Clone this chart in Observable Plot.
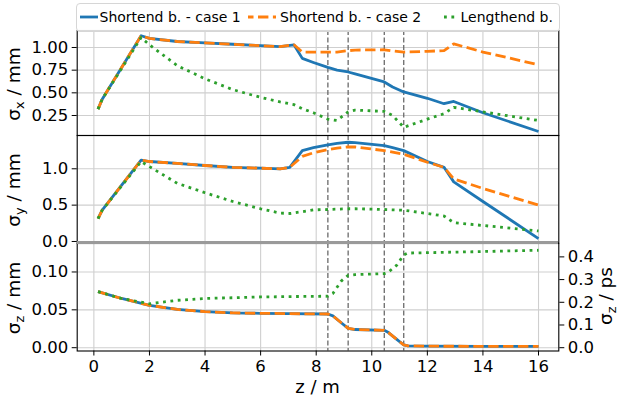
<!DOCTYPE html>
<html>
<head>
<meta charset="utf-8">
<script src="https://cdn.jsdelivr.net/npm/d3@7"></script>
<script src="https://cdn.jsdelivr.net/npm/@observablehq/plot@0.6"></script>
<style>
  html, body { margin: 0; padding: 0; background: white; }
  #fig { position: relative; width: 618px; height: 403px; font-family: "DejaVu Sans", sans-serif; font-weight: normal; color: black; overflow: hidden; }
  .abs { position: absolute; }
  .vlabel { position: absolute; white-space: nowrap; transform: translate(-50%, -50%) rotate(-90deg); font-size: 18.5px; line-height: 1; font-weight: normal; }
  .vlabel sub { font-size: 70%; vertical-align: -0.25em; }
  .leg-text { position: absolute; font-size: 14px; white-space: nowrap; line-height: 1; font-weight: normal; }
</style>
</head>
<body>
<div id="fig"></div>
<script>
// ---------- data ----------
const seriesNames = ["Shortend b. - case 1", "Shortend b. - case 2", "Lengthend b."];
const xTicks = [0, 2, 4, 6, 8, 10, 12, 14, 16];
const dashZ = [8.42, 9.15, 10.45, 11.15];

// panel 1: sigma_x / mm
const zX = [0.15, 0.3, 1.7, 2.0, 3.0, 4.0, 5.0, 6.0, 6.7, 7.2, 7.5, 7.9, 8.42, 8.75, 9.15, 9.4, 10.45, 10.75, 11.15, 12.0, 12.6, 12.95, 14.0, 16.0];
const sx1 = [0.32, 0.43, 1.13, 1.10, 1.066, 1.05, 1.036, 1.02, 1.01, 1.03, 0.88, 0.835, 0.78, 0.75, 0.73, 0.71, 0.62, 0.565, 0.51, 0.44, 0.38, 0.405, 0.28, 0.074];
const sx2 = [0.32, 0.43, 1.13, 1.10, 1.066, 1.05, 1.036, 1.02, 1.01, 1.03, 0.95, 0.95, 0.95, 0.95, 0.965, 0.972, 0.975, 0.962, 0.95, 0.958, 0.965, 1.04, 0.95, 0.81];
const sx3 = [0.32, 0.43, 1.11, 1.03, 0.80, 0.655, 0.535, 0.45, 0.40, 0.37, 0.325, 0.28, 0.21, 0.195, 0.29, 0.31, 0.295, 0.25, 0.12, 0.21, 0.27, 0.34, 0.29, 0.195];
const xTicksY1 = [0.25, 0.5, 0.75, 1.0];

// panel 2: sigma_y / mm
const zY = [0.15, 0.3, 1.7, 2.0, 3.0, 4.0, 5.0, 6.0, 6.7, 7.05, 7.5, 7.9, 8.42, 8.75, 9.15, 9.4, 10.45, 10.75, 11.15, 12.0, 12.6, 12.95, 14.0, 16.0];
const sy1 = [0.315, 0.43, 1.12, 1.10, 1.075, 1.045, 1.02, 1.008, 1.0, 1.02, 1.25, 1.29, 1.33, 1.35, 1.365, 1.36, 1.32, 1.29, 1.25, 1.10, 1.02, 0.82, 0.55, 0.04];
const sy2 = [0.315, 0.43, 1.12, 1.10, 1.075, 1.045, 1.02, 1.008, 1.0, 1.02, 1.17, 1.22, 1.265, 1.285, 1.30, 1.30, 1.25, 1.23, 1.20, 1.09, 1.02, 0.86, 0.73, 0.50];
const sy3 = [0.315, 0.43, 1.10, 1.03, 0.80, 0.67, 0.55, 0.45, 0.39, 0.385, 0.41, 0.435, 0.44, 0.445, 0.45, 0.45, 0.44, 0.435, 0.43, 0.385, 0.35, 0.26, 0.22, 0.145];
const yTicksY2 = [0.0, 0.5, 1.0];

// panel 3: sigma_z / mm (right axis in ps)
const zZ = [0.15, 1.0, 2.0, 3.0, 4.0, 5.0, 6.0, 7.0, 8.42, 8.6, 8.9, 9.15, 9.4, 10.45, 10.6, 10.9, 11.15, 11.3, 12.0, 14.0, 16.0];
const sz1 = [0.074, 0.065, 0.056, 0.0505, 0.0476, 0.046, 0.0454, 0.045, 0.0445, 0.042, 0.033, 0.0256, 0.024, 0.023, 0.020, 0.011, 0.0036, 0.0025, 0.002, 0.0018, 0.0018];
const sz2 = [0.074, 0.065, 0.056, 0.0505, 0.0476, 0.046, 0.0454, 0.045, 0.0445, 0.042, 0.033, 0.0256, 0.024, 0.023, 0.020, 0.011, 0.0036, 0.0025, 0.002, 0.0018, 0.0018];
const sz3 = [0.074, 0.065, 0.058, 0.0626, 0.065, 0.066, 0.067, 0.0675, 0.068, 0.0715, 0.088, 0.0956, 0.0965, 0.0978, 0.100, 0.109, 0.1225, 0.125, 0.1255, 0.127, 0.1287];
const yTicksZmm = [0.0, 0.05, 0.10];
const yTicksZps = [0.0, 0.1, 0.2, 0.3, 0.4];
const mmPerPs = 0.299792458;

// ---------- drawing ----------
const colors = ["#1f77b4", "#ff7f0e", "#2ca02c"];
const dashes = [null, "10.4,4.5", "2.8,4.6"];
const fig = document.getElementById("fig");
const xDomain = [-0.6, 16.73];
const mL = 76.7, mR = 618 - 558.3;

function rows(zs, vs) { return zs.map((z, i) => ({z, v: vs[i]})); }

function panel({top, height, zs, ss, domain, ticks, fmt, bottomAxis, rightAxis}) {
  const marks = [
    Plot.gridX(xTicks, {stroke: "#cfcfcf", strokeOpacity: 1, strokeWidth: 1.1}),
    Plot.gridY(ticks, {stroke: "#cfcfcf", strokeOpacity: 1, strokeWidth: 1.1}),
    Plot.ruleX(dashZ, {stroke: "#6a6a6a", strokeWidth: 1.3, strokeDasharray: "5,2.5"})
  ];
  ss.forEach((vs, i) => {
    marks.push(Plot.line(rows(zs, vs), {
      x: "z", y: "v", stroke: colors[i], strokeWidth: 2.8,
      strokeDasharray: dashes[i], strokeLinejoin: "round", strokeLinecap: "butt"
    }));
  });
  marks.push(Plot.frame({stroke: "black", strokeWidth: 1.1}));
  marks.push(Plot.axisY(ticks, {anchor: "left", tickSize: 5, tickPadding: 4, tickFormat: fmt, label: null}));
  if (bottomAxis) marks.push(Plot.axisX(xTicks, {anchor: "bottom", tickSize: 5, tickPadding: 4, tickFormat: d => String(d), label: null}));
  if (rightAxis) marks.push(Plot.axisY(yTicksZps.map(p => p * mmPerPs), {anchor: "right", tickSize: 5, tickPadding: 4, tickFormat: d => (d / mmPerPs).toFixed(1), label: null}));
  const svg = Plot.plot({
    width: 618, height,
    marginLeft: mL, marginRight: mR, marginTop: 0, marginBottom: 0,
    x: {domain: xDomain, axis: null},
    y: {domain, axis: null},
    style: {background: "transparent", overflow: "visible", fontFamily: "DejaVu Sans, sans-serif", fontSize: "16.5px", fontWeight: "normal"},
    marks
  });
  svg.style.position = "absolute";
  svg.style.left = "0px";
  svg.style.top = top + "px";
  fig.appendChild(svg);
}

panel({top: 30, height: 105, zs: zX, ss: [sx1, sx2, sx3], domain: [0.0294, 1.1875], ticks: xTicksY1, fmt: d => d.toFixed(2)});
panel({top: 135, height: 107.5, zs: zY, ss: [sy1, sy2, sy3], domain: [-0.021, 1.458], ticks: yTicksY2, fmt: d => d.toFixed(1)});
panel({top: 242.5, height: 107.5, zs: zZ, ss: [sz1, sz2, sz3], domain: [-0.00436, 0.1376], ticks: yTicksZmm, fmt: d => d.toFixed(2), bottomAxis: true, rightAxis: true});

// gray band between panel 2 and 3
const band = document.createElement("div");
band.className = "abs";
Object.assign(band.style, {left: mL + "px", top: "240.5px", width: (558.3 - mL) + "px", height: "3px", background: "#9a9a9a"});
fig.appendChild(band);

// axis labels
function vlabel(html, cx, cy) {
  const d = document.createElement("div");
  d.className = "vlabel";
  d.innerHTML = html;
  d.style.left = cx + "px";
  d.style.top = cy + "px";
  fig.appendChild(d);
}
vlabel("σ<sub>x</sub> / mm", 15.5, 84);
vlabel("σ<sub>y</sub> / mm", 15.5, 190);
vlabel("σ<sub>z</sub> / mm", 15.5, 298);
vlabel("σ<sub>z</sub> / ps", 608, 296);

const xl = document.createElement("div");
xl.className = "abs";
xl.textContent = "z / m";
Object.assign(xl.style, {left: ((mL + 558.3) / 2) + "px", top: "387px", transform: "translate(-50%,-50%)", fontSize: "18px", whiteSpace: "nowrap", lineHeight: "1"});
fig.appendChild(xl);

// legend
const leg = document.createElement("div");
leg.className = "abs";
Object.assign(leg.style, {left: "76px", top: "3px", width: "482px", height: "27px", border: "1px solid #d6d6d6", borderRadius: "4px", background: "rgba(255,255,255,0.85)"});
fig.appendChild(leg);
const legSvgNS = "http://www.w3.org/2000/svg";
const legItems = [
  {x1: 80, x2: 98, tx: 99.5},
  {x1: 248, x2: 276, tx: 280},
  {x1: 440, x2: 456, tx: 460.5}
];
const lsvg = document.createElementNS(legSvgNS, "svg");
lsvg.setAttribute("width", 618); lsvg.setAttribute("height", 34);
lsvg.style.position = "absolute"; lsvg.style.left = "0px"; lsvg.style.top = "0px";
legItems.forEach((it, i) => {
  const ln = document.createElementNS(legSvgNS, "line");
  ln.setAttribute("x1", it.x1); ln.setAttribute("x2", it.x2);
  ln.setAttribute("y1", 17); ln.setAttribute("y2", 17);
  ln.setAttribute("stroke", colors[i]); ln.setAttribute("stroke-width", 2.8);
  if (i === 1) { ln.setAttribute("stroke-dasharray", "10.4,4.5"); ln.setAttribute("stroke-dashoffset", "-10"); }
  if (i === 2) { ln.setAttribute("stroke-dasharray", "2.8,4.6"); ln.setAttribute("stroke-dashoffset", "-4"); }
  lsvg.appendChild(ln);
  const t = document.createElement("div");
  t.className = "leg-text";
  t.textContent = seriesNames[i];
  t.style.left = it.tx + "px";
  t.style.top = "10px";
  fig.appendChild(t);
});
fig.appendChild(lsvg);
</script>
</body>
</html>
